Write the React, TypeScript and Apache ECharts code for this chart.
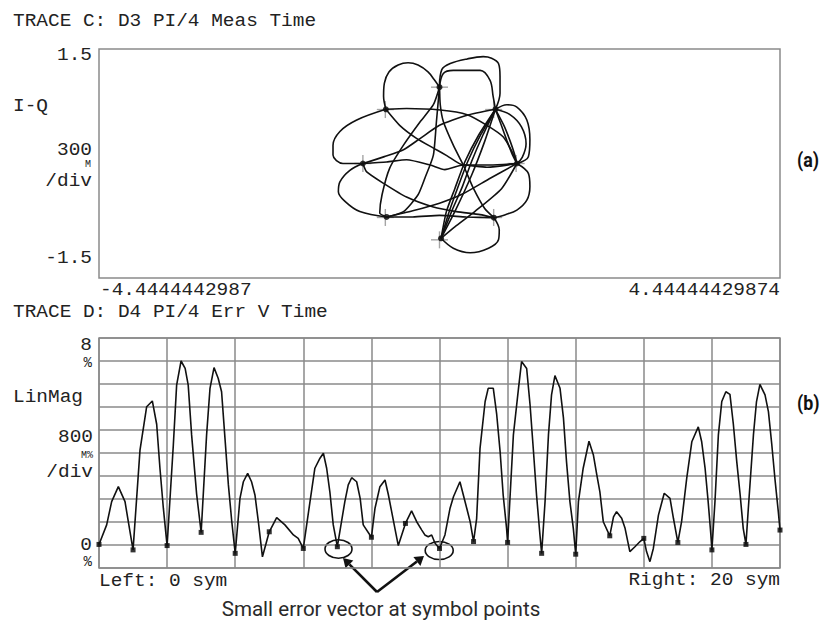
import React, { useEffect, useRef } from "react";
import * as echarts from "echarts";

// ---------- texts ----------
const traceCTitle = "TRACE C: D3 PI/4 Meas Time";
const traceDTitle = "TRACE D: D4 PI/4 Err V Time";
const iqXMinLabel = "-4.4444442987";
const iqXMaxLabel = "4.44444429874";
const iqYTopLabel = "1.5";
const iqYBottomLabel = "-1.5";
const iqScaleLabels = ["I-Q", "300", "M", "/div"];
const errYTopLabels = ["8", "%"];
const errYBottomLabels = ["0", "%"];
const errScaleLabels = ["LinMag", "800", "M%", "/div"];
const errXLeftLabel = "Left: 0 sym";
const errXRightLabel = "Right: 20 sym";
const annotationText = "Small error vector at symbol points";

// ---------- axes ----------
const iqXMin = -4.4444442987;
const iqXMax = 4.44444429874;
const iqYMin = -1.5;
const iqYMax = 1.5;
const errXMin = 0;
const errXMax = 20;
const errXInterval = 2;
const errYMin = 0;
const errYMax = 8;
const errYInterval = 0.8;

// ---------- I-Q trace (I, Q) ----------
const idealI = [1, 0.707, 0, -0.707, -1, -0.707, 0, 0.707];
const idealQ = [0, 0.707, 1, 0.707, 0, -0.707, -1, -0.707];
const symbolI = [1.01, 0.73, 0.0, -0.7, -1.0, -0.69, 0.02, 0.71];
const symbolQ = [0.0, 0.71, 1.0, 0.71, 0.0, -0.7, -0.98, -0.71];

const petalA = [[-0.70,0.71],[-0.73,0.88],[-0.72,1.05],[-0.66,1.20],[-0.54,1.29],[-0.41,1.32],[-0.28,1.29],[-0.15,1.20],[-0.07,1.10],[0.0,1.0]];
const petalB1 = [[0.0,1.0],[0.03,1.23],[0.14,1.31],[0.36,1.37],[0.57,1.40],[0.68,1.38],[0.77,1.31],[0.79,1.14],[0.79,0.92],[0.73,0.71]];
const petalB2 = [[0.0,1.0],[0.05,1.18],[0.18,1.22],[0.53,1.22],[0.66,1.09],[0.70,0.88],[0.73,0.71]];
const petalC1 = [[0.73,0.71],[0.88,0.77],[1.01,0.74],[1.14,0.57],[1.18,0.31],[1.16,0.09],[1.01,0.0]];
const petalC2 = [[0.73,0.71],[0.92,0.64],[1.07,0.48],[1.13,0.26],[1.08,0.08],[1.01,0.0]];
const petalD = [[1.01,0.0],[1.16,-0.13],[1.18,-0.30],[1.14,-0.48],[1.01,-0.61],[0.86,-0.67],[0.71,-0.71]];
const petalE = [[0.71,-0.71],[0.78,-0.87],[0.77,-1.00],[0.64,-1.11],[0.40,-1.17],[0.18,-1.11],[0.02,-0.98]];
const petalG = [[-0.69,-0.70],[-1.04,-0.63],[-1.23,-0.50],[-1.32,-0.37],[-1.30,-0.24],[-1.17,-0.09],[-1.0,0.0]];
const petalH = [[-1.0,0.0],[-1.26,0.0],[-1.39,0.11],[-1.39,0.24],[-1.30,0.42],[-1.08,0.57],[-0.70,0.71]];
const chord1 = [[-0.70,0.71],[-0.52,0.50],[-0.30,0.33],[-0.04,0.18],[0.10,0.10],[0.31,-0.02],[0.66,-0.02],[1.01,0.0]];
const chord2 = [[0.0,1.0],[0.01,0.77],[0.05,0.55],[0.18,0.24],[0.31,-0.02],[0.44,-0.32],[0.59,-0.59],[0.71,-0.71]];
const chord3a = [[0.02,-0.98],[0.09,-0.63],[0.20,-0.33],[0.33,0.02],[0.51,0.37],[0.73,0.71]];
const chord3b = [[0.02,-0.98],[0.13,-0.62],[0.24,-0.31],[0.37,0.03],[0.54,0.38],[0.73,0.71]];
const chord3c = [[0.02,-0.98],[0.17,-0.60],[0.30,-0.30],[0.42,0.03],[0.57,0.38],[0.73,0.71]];
const chord3d = [[0.02,-0.98],[0.20,-0.63],[0.42,-0.15],[0.59,0.29],[0.73,0.71]];
const chord4a = [[0.73,0.71],[0.80,0.52],[0.88,0.30],[0.95,0.12],[1.01,0.0]];
const chord4b = [[0.73,0.71],[0.84,0.50],[0.92,0.30],[0.98,0.12],[1.01,0.0]];
const chord5 = [[-0.69,-0.70],[-0.78,-0.65],[-0.75,-0.41],[-0.65,-0.06],[-0.47,0.24],[-0.25,0.55],[-0.08,0.77],[0.0,1.0]];
const chord6 = [[-1.0,0.0],[-0.72,0.09],[-0.47,0.18],[-0.25,0.33],[0.0,0.50],[0.35,0.63],[0.73,0.71]];
const chord7 = [[-0.70,0.71],[-0.43,0.72],[0.01,0.70],[0.36,0.64],[0.62,0.50],[0.83,0.35],[0.96,0.13],[1.01,0.0]];
const chord8 = [[-1.0,0.0],[-0.95,-0.11],[-0.73,-0.26],[-0.43,-0.44],[-0.08,-0.57],[0.22,-0.63],[0.53,-0.67],[0.71,-0.71]];
const chord9 = [[-1.0,0.0],[-0.69,0.02],[-0.43,0.05],[-0.12,-0.02],[0.07,-0.08],[0.31,-0.02],[0.62,-0.05],[1.01,0.0]];
const chord10 = [[0.0,1.0],[-0.04,0.55],[-0.08,0.11],[-0.19,-0.19],[-0.28,-0.41],[-0.47,-0.63],[-0.69,-0.70]];
const chord11 = [[-0.69,-0.70],[-0.35,-0.70],[0.0,-0.68],[0.35,-0.70],[0.71,-0.71]];
const chord12 = [[1.01,0.0],[0.81,-0.33],[0.46,-0.63],[0.20,-0.83],[0.02,-0.98]];
const chord13 = [[-0.69,-0.70],[-0.35,-0.62],[0.0,-0.52],[0.30,-0.40],[0.65,-0.20],[1.01,0.0]];

const iqPetals = [petalA, petalB1, petalB2, petalC1, petalC2, petalD, petalE, petalG, petalH];
const iqChords = [
  chord1, chord2, chord3a, chord3b, chord3c, chord3d, chord4a, chord4b,
  chord5, chord6, chord7, chord8, chord9, chord10, chord11, chord12, chord13,
];

// ---------- error vector trace ----------
const errSym = [
  0, 0.225, 0.372, 0.568, 0.764, 0.861, 1.0, 1.204, 1.4, 1.566, 1.694, 1.79, 1.89,
  2.0, 2.183, 2.28, 2.41, 2.53, 2.62, 2.72, 2.868, 3.0, 3.16, 3.26, 3.378, 3.5, 3.6,
  3.7, 3.8, 3.9, 4.0, 4.14, 4.24, 4.366, 4.48, 4.58, 4.68, 4.8, 5.0, 5.218, 5.46,
  5.71, 5.85, 6.0, 6.197, 6.34, 6.49, 6.59, 6.686, 6.78, 6.88, 7.0, 7.22, 7.32, 7.42,
  7.567, 7.67, 7.76, 8.0, 8.106, 8.25, 8.4, 8.5, 8.595, 8.69, 8.79, 9.0, 9.18, 9.33,
  9.48, 9.57, 9.67, 9.77, 9.87, 10.0, 10.16, 10.31, 10.41, 10.6, 10.7, 10.8, 10.9,
  11.0, 11.09, 11.19, 11.34, 11.43, 11.58, 11.68, 11.78, 11.87, 11.97, 12.0, 12.17,
  12.32, 12.41, 12.56, 12.66, 12.76, 12.85, 12.95, 13.0, 13.1, 13.2, 13.29, 13.39,
  13.54, 13.64, 13.73, 13.83, 13.93, 14.0, 14.08, 14.22, 14.39, 14.52, 14.62, 14.71,
  14.81, 15.0, 15.11, 15.2, 15.35, 15.45, 15.59, 15.74, 15.89, 16.0, 16.08, 16.18,
  16.28, 16.43, 16.6, 16.77, 16.87, 17.0, 17.11, 17.26, 17.41, 17.6, 17.7, 17.8,
  17.89, 17.97, 18.0, 18.09, 18.19, 18.29, 18.41, 18.53, 18.63, 18.73, 18.83, 18.92,
  19.0, 19.07, 19.22, 19.31, 19.41, 19.56, 19.66, 19.76, 19.85, 19.95, 20.0,
];
const errPct = [
  0.82, 1.5, 2.31, 2.83, 2.31, 1.61, 0.63, 4.1, 5.61, 5.81, 5.0, 3.47, 2.08,
  0.78, 4.28, 6.36, 7.2, 6.94, 6.36, 4.63, 2.56, 1.24, 4.63, 6.25, 6.97, 6.6, 6.13,
  4.51, 2.89, 1.61, 0.51, 2.42, 3.0, 3.29, 3.0, 2.54, 1.61, 0.39, 1.26, 1.75, 1.5,
  1.15, 1.03, 0.68, 2.31, 3.47, 3.82, 3.99, 3.47, 2.65, 1.5, 0.74, 2.31, 2.89, 3.14,
  3.0, 2.42, 1.5, 1.07, 2.08, 2.83, 3.06, 2.54, 1.96, 1.38, 0.78, 1.55, 1.99, 1.61,
  1.32, 1.15, 1.09, 1.15, 0.86, 0.68, 1.15, 2.08, 2.48, 3.0, 2.54, 2.08, 1.61,
  0.92, 1.71, 4.16, 5.79, 6.25, 6.25, 5.34, 4.05, 2.54, 1.38, 0.89, 4.63,
  6.25, 7.18, 6.94, 5.67, 4.05, 2.54, 1.15, 0.51, 2.31, 4.63, 6.02, 6.69,
  6.25, 5.22, 3.7, 2.31, 1.38, 0.48, 2.31, 3.47, 4.41, 3.93, 3.24, 2.65,
  1.61, 1.12, 1.78, 1.96, 1.73, 1.38, 0.57, 0.74, 0.92, 1.03, 0.57, 0.22,
  0.68, 1.84, 2.6, 2.42, 1.73, 0.89, 1.61, 3.12, 4.39, 4.91, 4.39, 3.47,
  2.31, 1.15, 0.63, 2.31, 4.63, 5.79, 6.13, 6.04, 5.0, 3.7, 2.54, 1.38,
  0.82, 2.08, 4.63, 5.79, 6.39, 6.02, 5.44, 4.28, 3.12, 1.96, 1.32,
];
const symbolIndex = [0,1,2,3,4,5,6,7,8,9,10,11,12,13,14,15,16,17,18,19,20];
const symbolErr = [0.82,0.63,0.78,1.24,0.51,1.26,0.68,0.74,1.07,1.55,0.68,0.92,0.89,0.51,0.48,1.12,1.03,0.89,0.63,0.82,1.32];

const MONO = "Liberation Mono, DejaVu Sans Mono, monospace";
const TXT = "#222";
const GRIDC = "#8a8a8a";

function monoText(text: string, x: number, y: number, align: string, size = 18, sx = 1.08) {
  return {
    type: "text",
    x,
    y,
    scaleX: sx,
    silent: true,
    style: { text, fill: TXT, font: `${size}px ${MONO}`, align, verticalAlign: "middle" },
  };
}

export default function App() {
  const ref = useRef<HTMLDivElement>(null);
  useEffect(() => {
    if (!ref.current) return;
    const chart = echarts.init(ref.current, null, { renderer: "svg" });

    const mkStroke = (s: number[][], smooth: number) => ({
      type: "line",
      xAxisIndex: 0,
      yAxisIndex: 0,
      data: s,
      showSymbol: false,
      symbol: "none",
      smooth,
      silent: true,
      lineStyle: { color: "#111", width: 1.6 },
    });
    const strokeSeries = [
      ...iqPetals.map((s) => mkStroke(s, 0.35)),
      ...iqChords.map((s) => mkStroke(s, 0.2)),
    ];

    const graphic: any[] = [
      monoText(traceCTitle, 13, 21, "left"),
      monoText(iqYTopLabel, 92, 55, "right"),
      monoText(iqScaleLabels[0], 13, 106, "left"),
      monoText(iqScaleLabels[1], 92, 150, "right"),
      monoText(iqScaleLabels[2], 91, 164, "right", 10, 1),
      monoText(iqScaleLabels[3], 92, 181, "right"),
      monoText(iqYBottomLabel, 92, 258, "right"),
      monoText(iqXMinLabel, 100, 290, "left"),
      monoText(iqXMaxLabel, 780, 290, "right"),
      monoText(traceDTitle, 13, 312, "left"),
      monoText(errYTopLabels[0], 92, 345, "right"),
      monoText(errYTopLabels[1], 92, 363, "right", 14, 1),
      monoText(errScaleLabels[0], 13, 397, "left"),
      monoText(errScaleLabels[1], 93, 437, "right"),
      monoText(errScaleLabels[2], 93, 455, "right", 10, 1),
      monoText(errScaleLabels[3], 93, 472, "right"),
      monoText(errYBottomLabels[0], 92, 545, "right"),
      monoText(errYBottomLabels[1], 92, 562, "right", 14, 1),
      monoText(errXLeftLabel, 99, 581, "left"),
      monoText(errXRightLabel, 780, 580, "right"),
      {
        type: "text", x: 797, y: 160, scaleX: 0.85, silent: true,
        style: { text: "(a)", fill: "#111", font: "bold 21px Roboto, sans-serif", align: "left", verticalAlign: "middle" },
      },
      {
        type: "text", x: 797, y: 403, scaleX: 0.85, silent: true,
        style: { text: "(b)", fill: "#111", font: "bold 21px Roboto, sans-serif", align: "left", verticalAlign: "middle" },
      },
      {
        type: "text", x: 381, y: 609, scaleX: 0.98, silent: true,
        style: { text: annotationText, fill: "#2a2a2a", font: "21px Roboto, sans-serif", align: "center", verticalAlign: "middle" },
      },
      { type: "ellipse", silent: true, shape: { cx: 338.5, cy: 549, rx: 13.5, ry: 9.2 }, style: { fill: "none", stroke: "#111", lineWidth: 1.6 } },
      { type: "ellipse", silent: true, shape: { cx: 439.2, cy: 550.5, rx: 14, ry: 9 }, style: { fill: "none", stroke: "#111", lineWidth: 1.6 } },
      { type: "line", silent: true, shape: { x1: 377, y1: 592, x2: 349.4, y2: 564.4 }, style: { stroke: "#111", lineWidth: 2.6 } },
      { type: "polygon", silent: true, shape: { points: [[343, 558], [353.3, 560.5], [345.5, 568.3]] }, style: { fill: "#111" } },
      { type: "line", silent: true, shape: { x1: 377, y1: 592, x2: 416.9, y2: 561.5 }, style: { stroke: "#111", lineWidth: 2.6 } },
      { type: "polygon", silent: true, shape: { points: [[424, 556], [420.4, 566], [413.4, 557]] }, style: { fill: "#111" } },
    ];

    chart.setOption({
      animation: false,
      backgroundColor: "#ffffff",
      grid: [
        { left: 99, top: 49, width: 681, height: 229, show: true, borderColor: GRIDC, borderWidth: 1.5, backgroundColor: "transparent" },
        { left: 99, top: 338, width: 681, height: 230, show: true, borderColor: GRIDC, borderWidth: 1.5, backgroundColor: "transparent" },
      ],
      xAxis: [
        { type: "value", gridIndex: 0, min: iqXMin, max: iqXMax, axisLine: { show: false }, axisTick: { show: false }, axisLabel: { show: false }, splitLine: { show: false } },
        { type: "value", gridIndex: 1, min: errXMin, max: errXMax, interval: errXInterval, axisLine: { show: false }, axisTick: { show: false }, axisLabel: { show: false }, splitLine: { show: true, lineStyle: { color: GRIDC, width: 1.5 } } },
      ],
      yAxis: [
        { type: "value", gridIndex: 0, min: iqYMin, max: iqYMax, axisLine: { show: false }, axisTick: { show: false }, axisLabel: { show: false }, splitLine: { show: false } },
        { type: "value", gridIndex: 1, min: errYMin, max: errYMax, interval: errYInterval, axisLine: { show: false }, axisTick: { show: false }, axisLabel: { show: false }, splitLine: { show: true, lineStyle: { color: GRIDC, width: 1.5 } } },
      ],
      series: [
        {
          type: "scatter", xAxisIndex: 0, yAxisIndex: 0, silent: true,
          symbol: "rect", symbolSize: [17, 1.4],
          itemStyle: { color: "#8f8f8f" },
          data: idealI.map((v, i) => [v, idealQ[i]]),
        },
        {
          type: "scatter", xAxisIndex: 0, yAxisIndex: 0, silent: true,
          symbol: "rect", symbolSize: [1.4, 17],
          itemStyle: { color: "#8f8f8f" },
          data: idealI.map((v, i) => [v, idealQ[i]]),
        },
        ...strokeSeries,
        {
          type: "scatter", xAxisIndex: 0, yAxisIndex: 0, silent: true,
          symbol: "circle", symbolSize: 6, itemStyle: { color: "#000" },
          data: symbolI.map((v, i) => [v, symbolQ[i]]),
        },
        {
          type: "line", xAxisIndex: 1, yAxisIndex: 1, silent: true,
          data: errSym.map((s, i) => [s, errPct[i]]),
          showSymbol: false, symbol: "none",
          lineStyle: { color: "#111", width: 1.6 },
        },
        {
          type: "scatter", xAxisIndex: 1, yAxisIndex: 1, silent: true,
          symbol: "rect", symbolSize: 5, itemStyle: { color: "#000" },
          data: symbolIndex.map((s, i) => [s, symbolErr[i]]),
        },
      ],
      graphic,
    });
    return () => chart.dispose();
  }, []);
  return (
    <div
      ref={ref}
      style={{ position: "absolute", left: 0, top: 0, width: 836, height: 623, background: "#fff" }}
    />
  );
}
